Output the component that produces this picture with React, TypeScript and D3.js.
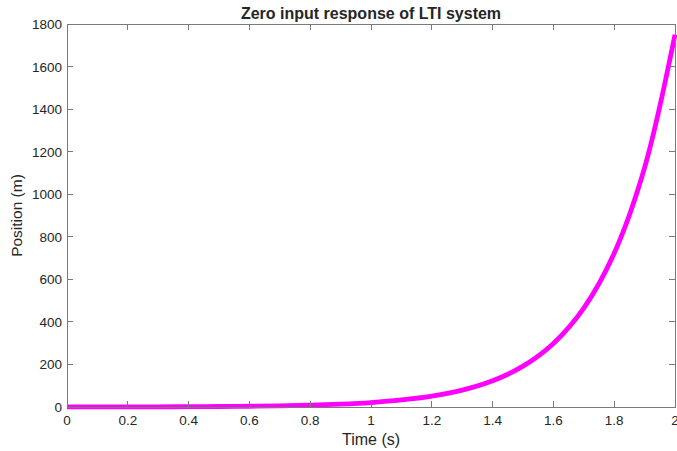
import React from "react";
import * as d3 from "d3";

// Sampled zero-input response x(t)
const timeValues = [0, 0.1, 0.2, 0.3, 0.4, 0.5, 0.6, 0.7, 0.8, 0.9, 1.0, 1.1, 1.2, 1.3, 1.4, 1.5, 1.6, 1.7, 1.8, 1.9, 2.0];
const positionValues = [0.3, 0.4, 0.6, 0.95, 1.5, 2.3, 3.6, 5.6, 8.7, 13.5, 21, 33, 51, 79, 123, 192, 299, 465, 723, 1125, 1750];

const xTicks = [0, 0.2, 0.4, 0.6, 0.8, 1, 1.2, 1.4, 1.6, 1.8, 2];
const yTicks = [0, 200, 400, 600, 800, 1000, 1200, 1400, 1600, 1800];

const W = 677;
const H = 451;
const margin = { left: 67, right: 2, top: 24, bottom: 44 };

export default function App() {
  const x = d3.scaleLinear().domain([0, 2]).range([margin.left, W - margin.right]);
  const y = d3.scaleLinear().domain([0, 1800]).range([H - margin.bottom, margin.top]);

  const data = timeValues.map((t, i) => [t, positionValues[i]] as [number, number]);
  const line = d3
    .line<[number, number]>()
    .x((d) => x(d[0]))
    .y((d) => y(d[1]))
    .curve(d3.curveCatmullRom.alpha(0.5));

  const x0 = margin.left;
  const x1 = W - margin.right;
  const y0 = H - margin.bottom;
  const y1 = margin.top;
  const tickLen = 6;
  const textColor = "#262626";
  const axisColor = "#7a7a7a";
  const font = "'Liberation Sans', Arial, Helvetica, sans-serif";

  return (
    <svg
      width={W}
      height={H}
      style={{ position: "absolute", left: 0, top: 0, background: "#fff", display: "block" }}
      fontFamily={font}
    >
      <rect x={0} y={0} width={W} height={H} fill="#ffffff" />
      <path d={line(data) ?? ""} fill="none" stroke="#ff00ff" strokeWidth={4.8} strokeLinejoin="round" strokeLinecap="butt" />

      {/* axes box */}
      <rect x={x0} y={y1} width={x1 - x0} height={y0 - y1} fill="none" stroke={axisColor} strokeWidth={1} shapeRendering="crispEdges" />

      {/* x ticks, bottom and top */}
      {xTicks.map((t) => (
        <g key={`xt${t}`}>
          <line x1={x(t)} x2={x(t)} y1={y0} y2={y0 - tickLen} stroke={axisColor} shapeRendering="crispEdges" />
          <line x1={x(t)} x2={x(t)} y1={y1} y2={y1 + tickLen} stroke={axisColor} shapeRendering="crispEdges" />
          <text x={x(t)} y={y0 + 18} textAnchor="middle" fontSize={13.5} fill={textColor}>
            {String(t)}
          </text>
        </g>
      ))}

      {/* y ticks, left and right */}
      {yTicks.map((v) => (
        <g key={`yt${v}`}>
          <line x1={x0} x2={x0 + tickLen} y1={y(v)} y2={y(v)} stroke={axisColor} shapeRendering="crispEdges" />
          <line x1={x1} x2={x1 - tickLen} y1={y(v)} y2={y(v)} stroke={axisColor} shapeRendering="crispEdges" />
          <text x={x0 - 5} y={y(v) + 5} textAnchor="end" fontSize={13.5} fill={textColor}>
            {String(v)}
          </text>
        </g>
      ))}

      <text x={(x0 + x1) / 2} y={19} textAnchor="middle" fontSize={16} fontWeight="bold" fill={textColor}>
        Zero input response of LTI system
      </text>
      <text x={(x0 + x1) / 2} y={445} textAnchor="middle" fontSize={16} fill={textColor}>
        Time (s)
      </text>
      <text
        transform={`translate(22, ${(y0 + y1) / 2}) rotate(-90)`}
        textAnchor="middle"
        fontSize={15.5}
        fill={textColor}
      >
        Position (m)
      </text>
    </svg>
  );
}
